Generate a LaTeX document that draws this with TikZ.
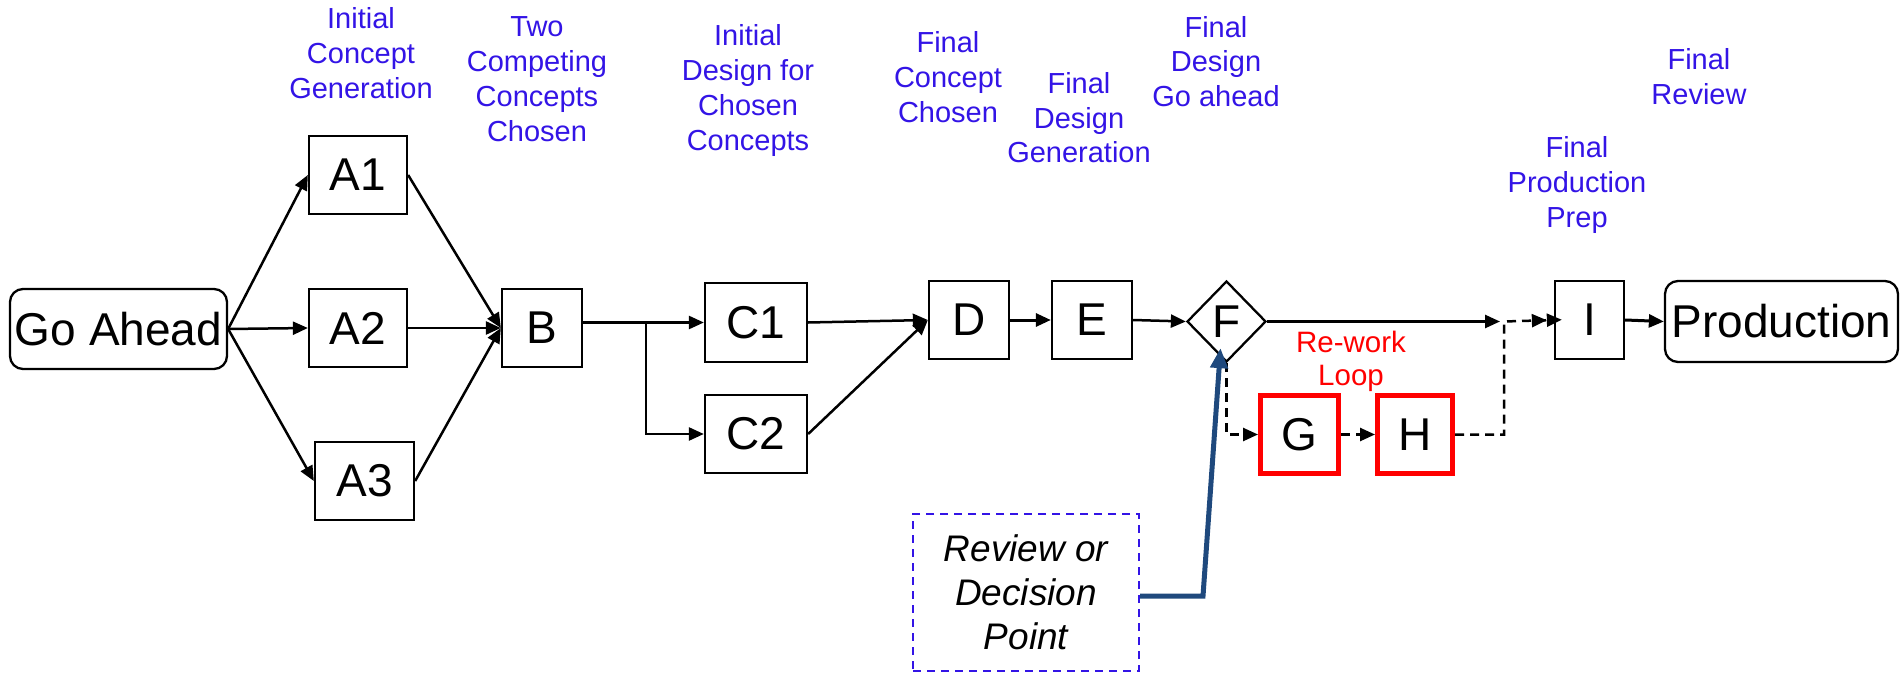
\documentclass[tikz,border=0pt]{standalone}
\usepackage{fontspec}
\setmainfont{Liberation Sans}
\usetikzlibrary{arrows.meta,shapes.geometric,calc}

\definecolor{lblue}{RGB}{51,20,230}
\definecolor{navy}{RGB}{31,73,125}
\definecolor{rwred}{RGB}{255,0,0}

\tikzset{
  box/.style={draw=black, line width=2.3pt, inner sep=0pt,
    font=\fontsize{46}{55}\selectfont},
  endbox/.style={box, rounded corners=13pt},
  redbox/.style={box, draw=rwred, line width=5pt},
  gate/.style={draw=black, line width=2.3pt, diamond, aspect=1, inner sep=0pt,
    font=\fontsize{46}{55}\selectfont},
  % captions are placed by the baseline of their last line
  lbl/.style={text=lblue, font=\fontsize{29}{35}\selectfont, align=center,
    anchor=base, inner sep=0pt},
  tip/.style={-{Triangle[length=15pt,width=13pt]}},
  arr/.style={tip, line width=2.5pt},
  darr/.style={line width=2.5pt, dash pattern=on 9pt off 6pt},
}

\begin{document}
\begin{tikzpicture}[x=1pt,y=-1pt]
\useasboundingbox (0,0) rectangle (1901,674);

% main chain of stages
\node[endbox, minimum width=217pt, minimum height=80pt] (go) at (118.5,329) {Go Ahead};
\node[box, minimum width=98pt, minimum height=78pt] (A1) at (358,175) {A1};
\node[box, minimum width=98pt, minimum height=78pt] (A2) at (358,328) {A2};
\node[box, minimum width=99pt, minimum height=78pt] (A3) at (364.5,481) {A3};
\node[box, minimum width=80pt, minimum height=78pt] (B) at (542,328) {B};
\node[box, minimum width=102pt, minimum height=79pt] (C1) at (756,322.5) {C1};
\node[box, minimum width=102pt, minimum height=78pt] (C2) at (756,434) {C2};
\node[box, minimum width=80pt, minimum height=78pt] (D) at (969,320) {D};
\node[box, minimum width=80pt, minimum height=78pt] (E) at (1092,320) {E};
\node[gate, minimum width=79pt, minimum height=81pt] (F) at (1226.5,321.5) {F};
\node[redbox, minimum width=78pt, minimum height=78pt] (G) at (1299.5,434.5) {G};
\node[redbox, minimum width=75pt, minimum height=78pt] (H) at (1415,434.5) {H};
\node[box, minimum width=69pt, minimum height=78pt] (I) at (1589.5,320) {I};
\node[endbox, minimum width=233pt, minimum height=81pt] (prod) at (1781.5,321.5) {Production};

% review / decision callout
\node[draw=lblue, line width=2pt, dash pattern=on 8pt off 6pt,
  minimum width=226pt, minimum height=157pt, align=center,
  font=\fontsize{37}{44}\selectfont\itshape] (rev) at (1026,592.5)
  {Review or\\Decision\\Point};

% stage captions
\node[lbl] (t1) at (361,99)   {Initial\\Concept\\Generation};
\node[lbl] (t2) at (537,142)  {Two\\Competing\\Concepts\\Chosen};
\node[lbl] (t3) at (748,150)  {Initial\\Design for\\Chosen\\Concepts};
\node[lbl] (t4) at (948,123)  {Final\\Concept\\Chosen};
\node[lbl] (t5) at (1079,163) {Final\\Design\\Generation};
\node[lbl] (t6) at (1216,107) {Final\\Design\\Go ahead};
\node[lbl] (t7) at (1577,227) {Final\\Production\\Prep};
\node[lbl] (t8) at (1699,105) {Final\\Review};
\node[lbl, text=rwred, font=\fontsize{29.5}{33}\selectfont] (rw) at (1351,385) {Re-work\\Loop};

% helper points
\coordinate (j) at (646,322.5);
\coordinate (fi) at (1500,321.5);
\coordinate (jx) at (1504,321.5);
\coordinate (bend) at (1203,596);
\coordinate (ftip) at ($(F.south)+(-6,-15)$);

% connectors
\draw[arr] (go.east) -- (A1.west);
\draw[arr] (go.east) -- (A2.west);
\draw[arr] (go.east) -- (A3.west);
\draw[arr] (A1.east) -- (B.west);
\draw[arr] (A2.east) -- (B.west);
\draw[arr] (A3.east) -- (B.west);
\draw[arr] (B.east |- j) -- (C1.west);
\draw[arr] (j) |- (C2.west);
\draw[arr] (C1.east) -- (D.west);
\draw[arr] (C2.east) -- (D.west);
\draw[arr, line width=3pt] (D.east) -- (E.west);
\draw[arr] (E.east) -- (F.west);
\draw[arr] (F.east) -- (fi);
\draw[arr, line width=3pt] (I.east) -- (prod.west);

% re-work loop
\draw[darr, tip] (F.south) |- (G.west);
\draw[darr, tip] (G.east) -- (H.west);
\draw[darr, -{Triangle[length=15pt,width=13pt] Triangle[length=15pt,width=13pt,sep=-8pt]}]
  (H.east) -- (jx |- H.east) -- (jx) -- (I.west);

% pointer from the callout to the decision diamond
\draw[navy, line width=5pt, -{Triangle[length=20pt,width=17pt]}]
  (rev.east |- bend) -- (bend) -- (ftip);
\end{tikzpicture}
\end{document}
